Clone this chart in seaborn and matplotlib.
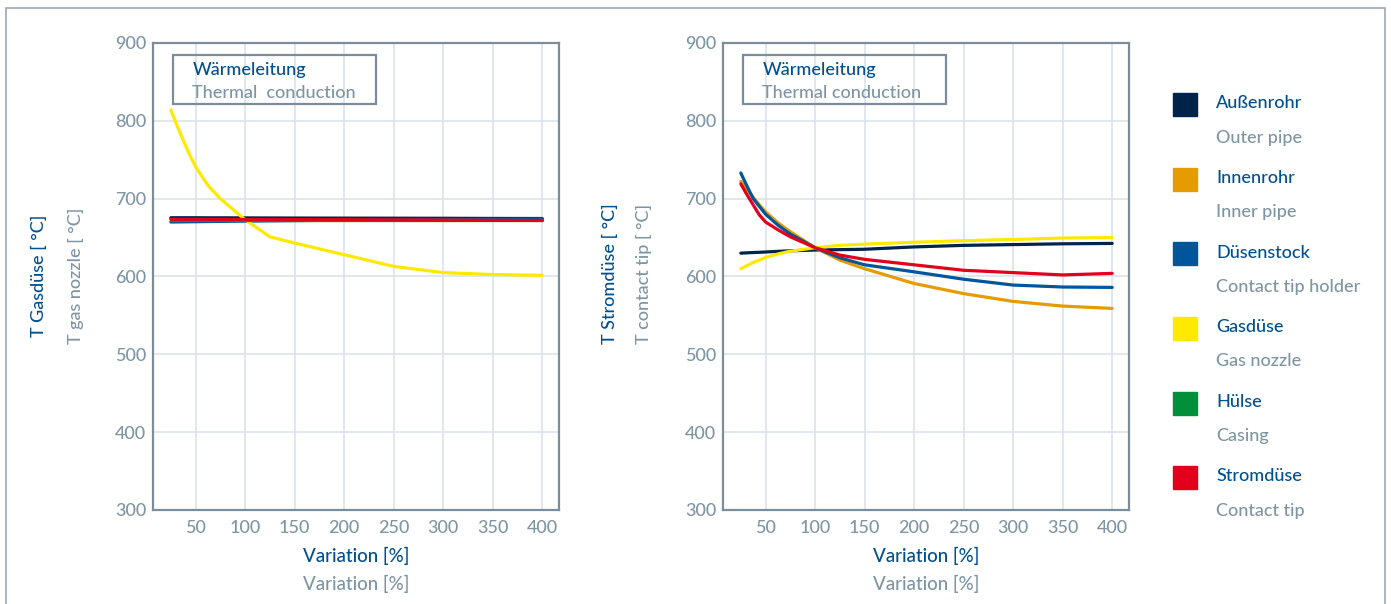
import pandas as pd
import seaborn as sns
import matplotlib.pyplot as plt
from matplotlib.patches import Rectangle

# x positions (variation in %)
variation = [25, 31.25, 37.5, 43.75, 50, 62.5, 75, 100, 125, 150, 200, 250, 300, 350, 400]

parts_de = ["Außenrohr", "Innenrohr", "Düsenstock", "Gasdüse", "Hülse", "Stromdüse"]
parts_en = ["Outer pipe", "Inner pipe", "Contact tip holder", "Gas nozzle", "Casing", "Contact tip"]
part_colors = ["#00234A", "#E59C00", "#00569B", "#FFE900", "#00903C", "#E2001A"]

# left panel: T gas nozzle
gas_aussenrohr = [675.5, 675.5, 675.5, 675.5, 675.5, 675.4, 675.4, 675.3, 675.2, 675.1, 675.0, 674.9, 674.8, 674.6, 674.5]
gas_innenrohr = [673] * 15
gas_duesenstock = [670, 670.1, 670.2, 670.3, 670.4, 670.6, 670.8, 671.2, 671.5, 671.8, 672.3, 672.8, 673.2, 673.6, 674]
gas_gasduese = [814, 794, 775, 757, 741, 717, 700, 673, 651, 643, 628, 613, 605, 602.5, 601.5]
gas_huelse = [673] * 15
gas_stromduese = [673.5, 673.5, 673.5, 673.5, 673.5, 673.4, 673.4, 673.3, 673.2, 673.1, 672.9, 672.7, 672.5, 672.2, 672]

# right panel: T contact tip
tip_aussenrohr = [630, 630.4, 630.8, 631.1, 631.5, 632.3, 633, 634, 634.5, 635, 638, 640, 641, 642, 642.5]
tip_innenrohr = [722, 712, 702, 692, 683, 669, 657.5, 637, 621, 610, 591, 578, 568, 562, 559]
tip_duesenstock = [733, 716, 700, 690, 680, 666, 654.5, 637, 624, 615, 606, 596.5, 589, 586.5, 586]
tip_gasduese = [610, 614, 618, 621, 624.5, 629, 632.5, 637, 640, 641.6, 644, 646, 647.6, 649.4, 650]
tip_stromduese = [719, 705, 692, 679, 670, 660, 651, 637, 627.5, 622, 615, 608, 605, 602, 604]

BLUE = "#00508F"
GRAY = "#7F95A3"
SPINE = "#7B8D9B"
GRID = "#DCE3EA"


def long_df(series):
    frames = []
    for name, vals in series.items():
        frames.append(pd.DataFrame({"variation": variation, "temp": vals, "part": name}))
    return pd.concat(frames, ignore_index=True)


df_gas = long_df({
    "Außenrohr": gas_aussenrohr,
    "Innenrohr": gas_innenrohr,
    "Düsenstock": gas_duesenstock,
    "Gasdüse": gas_gasduese,
    "Hülse": gas_huelse,
    "Stromdüse": gas_stromduese,
})
df_tip = long_df({
    "Außenrohr": tip_aussenrohr,
    "Innenrohr": tip_innenrohr,
    "Düsenstock": tip_duesenstock,
    "Gasdüse": tip_gasduese,
    "Stromdüse": tip_stromduese,
})

palette = dict(zip(parts_de, part_colors))

sns.set_theme(style="white")
plt.rcParams["font.family"] = ["Lato", "DejaVu Sans"]
plt.rcParams["font.weight"] = "medium"

W, H = 1391, 604
fig = plt.figure(figsize=(W / 100, H / 100), dpi=100)

# outer frame
fig.add_artist(Rectangle((6 / W, -0.1), (1385 - 6) / W, 1.1 - 8 / H, transform=fig.transFigure,
                         fill=False, edgecolor="#9AAAB6", lw=1.2))

ax_gas = fig.add_axes([153 / W, 1 - 510 / H, 406 / W, 467 / H])
ax_tip = fig.add_axes([723 / W, 1 - 510 / H, 406 / W, 467 / H])

for ax, df in [(ax_gas, df_gas), (ax_tip, df_tip)]:
    sns.lineplot(data=df, x="variation", y="temp", hue="part", palette=palette,
                 hue_order=[p for p in parts_de if p in df["part"].unique()],
                 linewidth=2.3, legend=False, ax=ax)
    ax.set_xlim(7, 417)
    ax.set_ylim(300, 900)
    ax.set_xticks(range(50, 401, 50))
    ax.set_yticks(range(300, 901, 100))
    ax.grid(True, color=GRID, lw=1.2)
    ax.set_axisbelow(True)
    for s in ax.spines.values():
        s.set_visible(True)
        s.set_color(SPINE)
        s.set_linewidth(1.6)
        s.set_zorder(5)
    ax.tick_params(length=0, labelsize=13, colors=GRAY)
    ax.tick_params(axis="x", pad=7)
    ax.tick_params(axis="y", pad=5)
    ax.set_xlabel("")
    ax.set_ylabel("")
    # header box
    ax.add_patch(Rectangle((0.0485, 0.869), 0.5, 0.105, transform=ax.transAxes,
                           fill=False, edgecolor=SPINE, lw=1.6, zorder=6))

ax_gas.text(0.0968, 1 - (75 - 43) / 467, "Wärmeleitung", transform=ax_gas.transAxes,
            color=BLUE, fontsize=13, va="baseline")
ax_gas.text(0.0968, 1 - (98.3 - 43) / 467, "Thermal  conduction", transform=ax_gas.transAxes,
            color=GRAY, fontsize=13, va="baseline")
ax_tip.text(0.0968, 1 - (75 - 43) / 467, "Wärmeleitung", transform=ax_tip.transAxes,
            color=BLUE, fontsize=13, va="baseline")
ax_tip.text(0.0968, 1 - (98.3 - 43) / 467, "Thermal conduction", transform=ax_tip.transAxes,
            color=GRAY, fontsize=13, va="baseline")

# x labels (German / English)
for cx in [356, 926]:
    fig.text(cx / W, 1 - 561.7 / H, "Variation [%]", color=BLUE, fontsize=13.5,
             ha="center", va="baseline")
    fig.text(cx / W, 1 - 590 / H, "Variation [%]", color=GRAY, fontsize=13.5,
             ha="center", va="baseline")

# y labels
fig.text(38.5 / W, 1 - 276 / H, "T Gasdüse [ °C]", color=BLUE, fontsize=13,
         rotation=90, ha="center", va="center")
fig.text(76 / W, 1 - 276 / H, "T gas nozzle [ °C]", color=GRAY, fontsize=13,
         rotation=90, ha="center", va="center")
fig.text(610 / W, 1 - 274 / H, "T Stromdüse [ °C]", color=BLUE, fontsize=13,
         rotation=90, ha="center", va="center")
fig.text(644 / W, 1 - 274 / H, "T contact tip [ °C]", color=GRAY, fontsize=13,
         rotation=90, ha="center", va="center")

# legend
step = 74.6
for i, (de, en, c) in enumerate(zip(parts_de, parts_en, part_colors)):
    top = 93.3 + i * step
    fig.add_artist(Rectangle((1173 / W, 1 - (top + 23) / H), 24 / W, 23 / H,
                             transform=fig.transFigure, color=c))
    fig.text(1216 / W, 1 - (108.3 + i * step) / H, de, color=BLUE, fontsize=13, va="baseline")
    fig.text(1216 / W, 1 - (142.7 + i * step) / H, en, color=GRAY, fontsize=13, va="baseline")

fig.savefig("out.png", dpi=100)
